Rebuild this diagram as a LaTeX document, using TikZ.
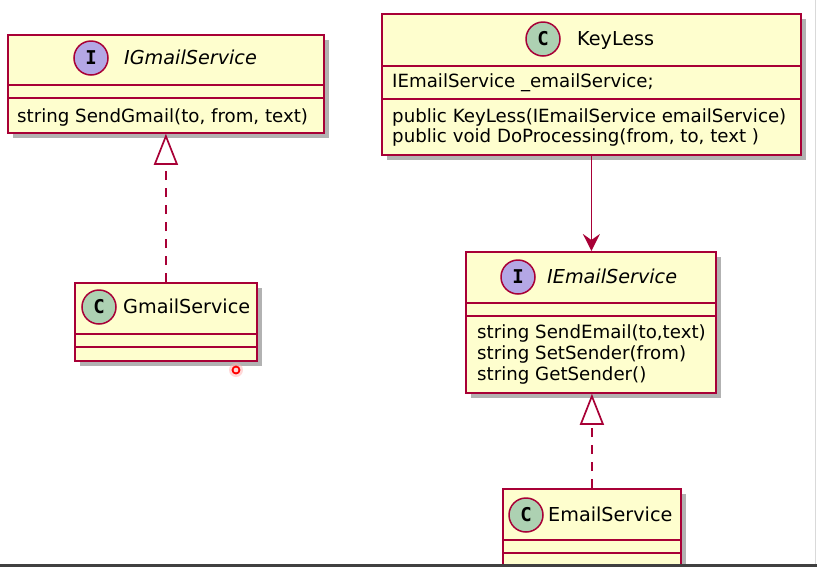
\documentclass[tikz,border=0pt]{standalone}
\usepackage{fontspec}
\setmainfont{DejaVu Sans}
\newfontfamily\spotfont{DejaVu Sans Mono}
\usetikzlibrary{arrows.meta,shadows}

\definecolor{umlred}{HTML}{A80036}
\definecolor{umlfill}{HTML}{FEFECE}
\definecolor{spotI}{HTML}{B4A7E5}
\definecolor{spotC}{HTML}{ADD1B2}

\tikzstyle{umlclass} = [draw=umlred,fill=umlfill,line width=1.8pt,anchor=north west,inner sep=0pt,drop shadow={shadow xshift=5pt,shadow yshift=-5pt,fill=black,opacity=0.3}]
\tikzstyle{umlline} = [umlred,line width=1.8pt]
\tikzstyle{spot} = [circle,draw=umlred,line width=1.5pt,minimum size=34pt,inner sep=0pt,font={\spotfont\bfseries\fontsize{19}{19}\selectfont}]
\tikzstyle{classname} = [anchor=base west,inner sep=0pt,font=\fontsize{19.2}{22}\selectfont]
\tikzstyle{member} = [anchor=base west,inner sep=0pt,font=\fontsize{18.2}{21}\selectfont]
\tikzstyle{realize} = [umlred,line width=1.7pt,dash pattern=on 9pt off 8pt,-{Triangle[open,length=31pt,width=24pt]}]
\tikzstyle{assoc} = [umlred,line width=1.7pt,-{Stealth[length=17pt,width=17pt,inset=6pt]}]

\begin{document}
\begin{tikzpicture}[x=1pt,y=-1pt]
\useasboundingbox (0,0) rectangle (817,566);
\clip (0,0) rectangle (817,566);
\fill[white] (0,0) rectangle (817,566);

% IGmailService
\node[umlclass,minimum width=316pt,minimum height=98pt] (igmail) at (7,34) {};
\draw[umlline] (7,85) -- (323,85);
\draw[umlline] (7,98) -- (323,98);
\node[spot,fill=spotI] (igmailspot) at (91,58) {I};
\node[classname] (igmailname) at (124,64.5) {\itshape IGmailService};
\node[member] (igmailm0) at (17,122) {string SendGmail(to, from, text)};

% GmailService
\node[umlclass,minimum width=182pt,minimum height=78pt] (gmailsvc) at (74,282) {};
\draw[umlline] (74,334) -- (256,334);
\draw[umlline] (74,347) -- (256,347);
\node[spot,fill=spotC] (gmailspot) at (99,307) {C};
\node[classname] (gmailname) at (123,313.5) {GmailService};

% KeyLess
\node[umlclass,minimum width=419pt,minimum height=141pt] (keyless) at (381,13) {};
\draw[umlline] (381,66) -- (800,66);
\draw[umlline] (381,99) -- (800,99);
\node[spot,fill=spotC] (keylessspot) at (543,39) {C};
\node[classname] (keylessname) at (577,45.5) {KeyLess};
\node[member] (keylessa0) at (392,87) {IEmailService \_emailService;};
\foreach \txt [count=\i from 0] in {{public KeyLess(IEmailService emailService)},{public void DoProcessing(from, to, text )}}
	\node[member] (keylessm\i) at (392,122+20*\i) {\txt};

% IEmailService
\node[umlclass,minimum width=250pt,minimum height=141pt] (iemail) at (465,251) {};
\draw[umlline] (465,303) -- (715,303);
\draw[umlline] (465,316) -- (715,316);
\node[spot,fill=spotI] (iemailspot) at (518,277) {I};
\node[classname] (iemailname) at (547,283.5) {\itshape IEmailService};
\foreach \txt [count=\i from 0] in {{string SendEmail(to,text)},{string SetSender(from)},{string GetSender()}}
	\node[member] (iemailm\i) at (477,338+21*\i) {\txt};

% EmailService
\node[umlclass,minimum width=178pt,minimum height=120pt] (emailsvc) at (502,488) {};
\draw[umlline] (502,540) -- (680,540);
\draw[umlline] (502,553) -- (680,553);
\node[spot,fill=spotC] (emailspot) at (526,515) {C};
\node[classname] (emailname) at (548,521.5) {EmailService};

% connectors
\draw[realize] (gmailsvc.north) -- (gmailsvc.north |- igmail.south);
\draw[assoc] (keyless.south) -- (keyless.south |- iemail.north);
\draw[realize] (emailsvc.north) -- (emailsvc.north |- iemail.south);

% cursor mark
\fill[red!30,opacity=0.5] (236,370) circle [radius=7pt];
\draw[red,line width=1.8pt] (236,370) circle [radius=3.5pt];

% window edges
\draw[black!15,line width=1pt] (815,0) -- (815,566);
\fill[black!75] (0,564) rectangle (817,567);
\end{tikzpicture}
\end{document}
